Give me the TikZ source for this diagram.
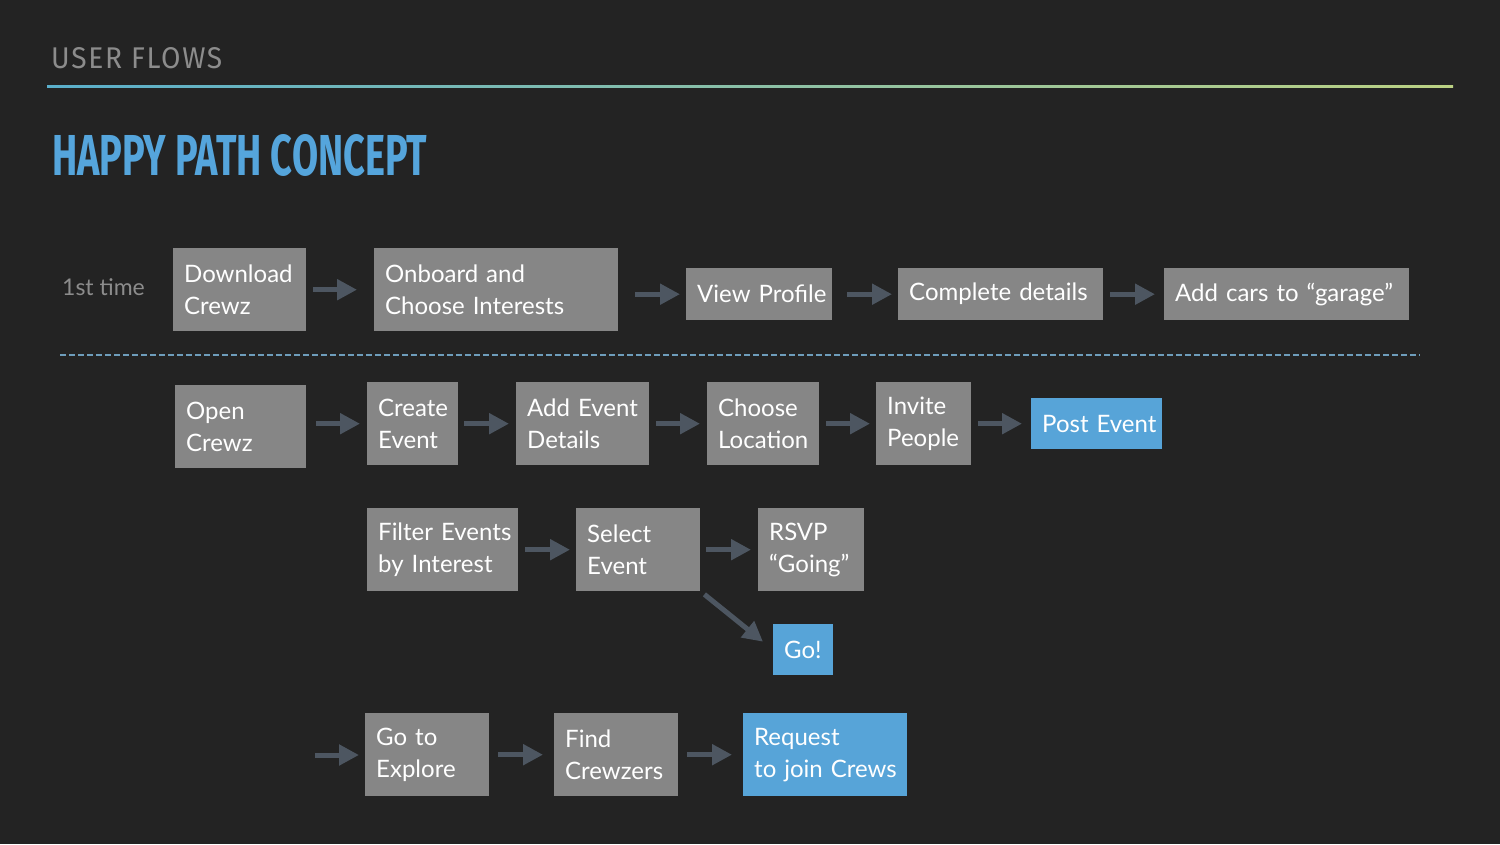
\documentclass[tikz,border=0pt]{standalone}
\usepackage{fontspec}
\setmainfont{Lato}
\newfontfamily\headfont{Fira Sans}
\usetikzlibrary{arrows.meta,calc}
\definecolor{bg}{HTML}{232323}
\definecolor{boxgray}{HTML}{868686}
\definecolor{boxblue}{HTML}{57A4D8}
\definecolor{arrowc}{HTML}{4D5661}
\definecolor{headgray}{HTML}{8C8C8C}
\definecolor{titleblue}{HTML}{55A5DC}
\definecolor{lineleft}{HTML}{5AAFCB}
\definecolor{lineright}{HTML}{BBD183}
\definecolor{dashc}{HTML}{6E9DBB}
\tikzset{
  x=1pt, y=-1pt,
  flowbox/.style={fill=boxgray, text=white, anchor=north west, inner xsep=11pt, inner ysep=0pt,
    align=left, font=\fontsize{24}{32}\selectfont,
    execute at begin node={\hyphenpenalty=10000\exhyphenpenalty=10000}},
  bluebox/.style={flowbox, fill=boxblue},
  arr/.style={draw=arrowc, line width=5pt, -{Triangle[length=20pt,width=20pt]}},
}
\begin{document}
\begin{tikzpicture}
\fill[bg] (0,0) rectangle (1500,844);
\useasboundingbox (0,0) rectangle (1500,844);
% header
\node[anchor=south west, inner sep=0pt, text=headgray] (hdr) at (51,69)
  {\resizebox{171pt}{21pt}{\headfont\addfontfeature{LetterSpace=6}USER FLOWS}};
\shade[left color=lineleft, right color=lineright] (47,85) rectangle (1453,87);
\node[anchor=south west, inner sep=0pt, text=titleblue] (title) at (52,177)
  {\resizebox{375pt}{41pt}{\headfont\bfseries HAPPY PATH CONCEPT}};
% row 1
\node[anchor=west, inner sep=0pt, text=headgray, font=\fontsize{23}{28}\selectfont] (first) at (62,287) {1st time};
\node[flowbox, text width=111pt, minimum height=83pt] (dl) at (173,248) {Download\\Crewz};
\node[flowbox, text width=222pt, minimum height=83pt] (ob) at (374,248) {\mbox{Onboard and}\\\mbox{Choose Interests}};
\node[flowbox, text width=124pt, minimum height=52pt] (vp) at (686,268) {\mbox{View Profile}};
\node[flowbox, text width=183pt, minimum height=52pt] (cd) at (898,268) {\mbox{Complete details}};
\node[flowbox, text width=223pt, minimum height=52pt] (ac) at (1164,268) {\mbox{Add cars to “garage”}};
\draw[arr, shorten <=7pt, shorten >=17pt] (dl.east) -- (dl.east -| ob.west);
\draw[arr, shorten <=17pt, shorten >=6pt] (vp.west -| ob.east) -- (vp.west);
\draw[arr, shorten <=15pt, shorten >=6pt] (vp.east) -- (cd.west);
\draw[arr, shorten <=7pt, shorten >=9pt] (cd.east) -- (ac.west);
% separator
\draw[dashc, line width=1.5pt, dash pattern=on 6pt off 3pt] (60,355) -- (1420,355);
% row 2
\node[flowbox, text width=109pt, minimum height=83pt] (oc) at (175,385) {Open\\Crewz};
\node[flowbox, text width=69pt, minimum height=83pt] (ce) at (367,382) {Create\\Event};
\node[flowbox, text width=111pt, minimum height=83pt] (ae) at (516,382) {\mbox{Add Event}\\Details};
\node[flowbox, text width=90pt, minimum height=83pt] (cl) at (707,382) {Choose\\Location};
\node[flowbox, text width=73pt, minimum height=83pt] (ip) at (876,382) {Invite\\People};
\node[bluebox, text width=109pt, minimum height=51pt] (pe) at (1031,398) {\mbox{Post Event}};
\draw[arr, shorten <=10pt, shorten >=7pt] (oc.east |- ce.west) -- (ce.west);
\draw[arr, shorten <=6pt, shorten >=7pt] (ce.east) -- (ae.west);
\draw[arr, shorten <=7pt, shorten >=7pt] (ae.east) -- (cl.west);
\draw[arr, shorten <=7pt, shorten >=6pt] (cl.east) -- (ip.west);
\draw[arr, shorten <=7pt, shorten >=9pt] (ip.east) -- (pe.west);
% row 3
\node[flowbox, text width=129pt, minimum height=83pt] (fe) at (367,508) {\mbox{Filter Events}\\\mbox{by Interest}};
\node[flowbox, text width=102pt, minimum height=83pt] (se) at (576,508) {Select\\Event};
\node[flowbox, text width=84pt, minimum height=83pt] (rs) at (758,508) {RSVP\\“Going”};
\node[bluebox, text width=38pt, minimum height=51pt] (go) at (773,624) {Go!};
\draw[arr, shorten <=7pt, shorten >=6pt] (fe.east) -- (se.west);
\draw[arr, shorten <=6pt, shorten >=7pt] (se.east) -- (rs.west);
\draw[arr] ([shift={(4,3)}]se.south east) -- ([shift={(-10,-8)}]go.west);
% row 4
\coordinate (start4) at (315,755);
\node[flowbox, text width=102pt, minimum height=83pt] (ge) at (365,713) {\mbox{Go to}\\Explore};
\node[flowbox, text width=102pt, minimum height=83pt] (fc) at (554,713) {Find\\Crewzers};
\node[bluebox, text width=142pt, minimum height=83pt] (rq) at (743,713) {Request\\\mbox{to join Crews}};
\draw[arr, shorten >=6pt] (start4) -- (start4 -| ge.west);
\draw[arr, shorten <=9pt, shorten >=11pt] (ge.east) -- (fc.west);
\draw[arr, shorten <=9pt, shorten >=11pt] (fc.east) -- (rq.west);
\end{tikzpicture}
\end{document}
